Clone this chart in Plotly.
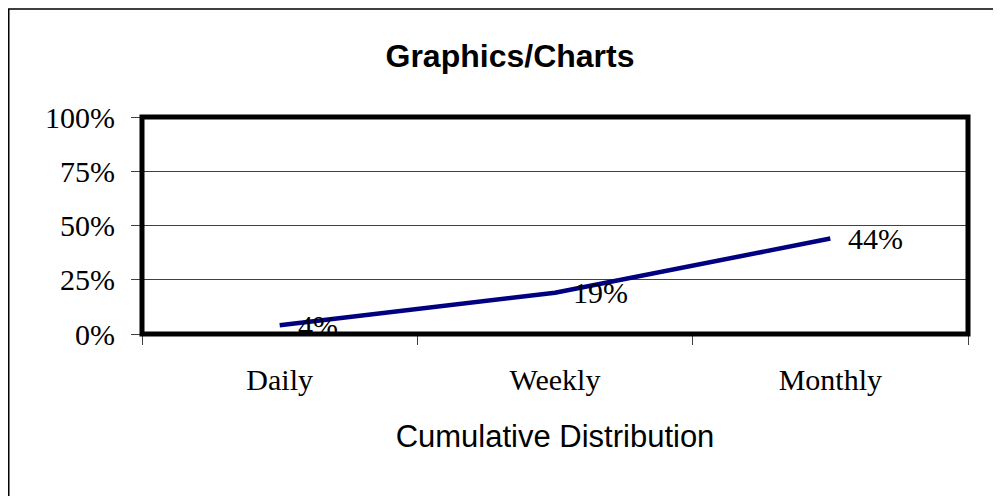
import plotly.graph_objects as go

# chart data
categories = ["Daily", "Weekly", "Monthly"]
values = [0.04, 0.19, 0.44]
labels = ["4%", "19%", "44%"]
y_ticks = [0, 0.25, 0.5, 0.75, 1.0]
y_tick_text = ["0%", "25%", "50%", "75%", "100%"]

serif = "Liberation Serif, Times New Roman, serif"
sans = "Liberation Sans, Arial, sans-serif"

fig = go.Figure()

fig.add_trace(go.Scatter(
    x=categories,
    y=values,
    mode="lines",
    line=dict(color="#000080", width=4.5),
    hoverinfo="skip",
    showlegend=False
))

# data labels to the right of each point
for cat, val, txt in zip(categories, values, labels):
    fig.add_annotation(
        x=cat, y=val, text=txt,
        xanchor="left", yanchor="middle",
        xshift=16, showarrow=False,
        font=dict(family=serif, size=30, color="black")
    )

# thick plot area border
fig.add_shape(type="rect", xref="paper", yref="paper",
              x0=0, x1=1, y0=0, y1=1,
              line=dict(color="black", width=5), layer="above")

# outer chart border (runs off the right and bottom edges)
fig.add_shape(type="rect", xref="paper", yref="paper",
              x0=-0.1613, x1=1.1, y0=-0.9, y1=1.4977,
              line=dict(color="black", width=1.5), layer="above")

fig.update_layout(
    width=1001,
    height=496,
    margin=dict(l=134, r=41, t=109, b=170),
    paper_bgcolor="white",
    plot_bgcolor="white",
    title=dict(
        text="<b>Graphics/Charts</b>",
        font=dict(family=sans, size=32, color="black"),
        x=0.5015, xref="container", xanchor="center",
        y=0.903, yref="container", yanchor="middle"
    ),
    xaxis=dict(
        type="category",
        range=[-0.5, 2.5],
        tickson="boundaries",
        ticks="outside", ticklen=10, tickwidth=1, tickcolor="#404040",
        showgrid=False, showline=False, zeroline=False,
        tickfont=dict(family=serif, size=30, color="black"),
        ticklabelstandoff=25,
        title=dict(text="Cumulative Distribution",
                   font=dict(family=sans, size=31, color="black"),
                   standoff=30)
    ),
    yaxis=dict(
        range=[0, 1],
        tickvals=y_ticks,
        ticktext=y_tick_text,
        ticks="outside", ticklen=10, tickwidth=1, tickcolor="#404040",
        showgrid=True, gridcolor="#404040", gridwidth=1,
        showline=False, zeroline=False,
        tickfont=dict(family=serif, size=30, color="black"),
        ticklabelstandoff=10
    )
)

fig.write_html("out.html")
